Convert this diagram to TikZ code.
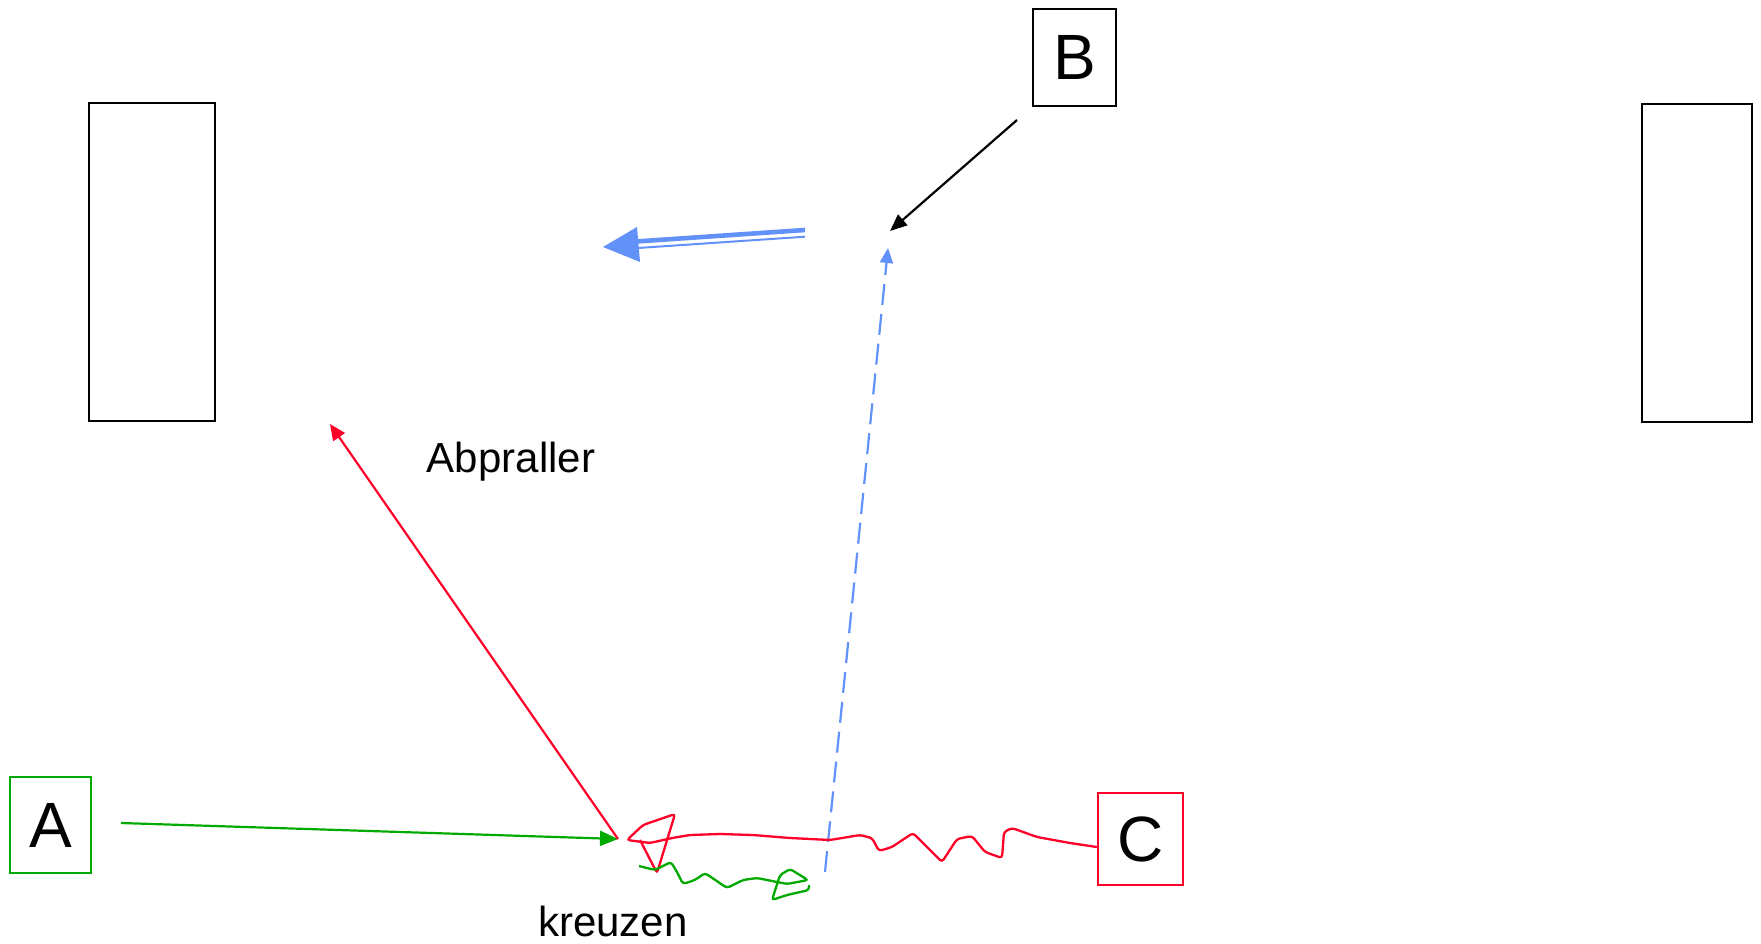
\documentclass[tikz,border=0pt]{standalone}
\usepackage{fontspec}
\setmainfont{Liberation Sans}
\usetikzlibrary{arrows.meta}
\definecolor{teamgreen}{RGB}{0,170,0}
\definecolor{teamred}{RGB}{255,0,40}
\definecolor{ballblue}{RGB}{98,145,250}
\tikzset{
  player/.style={draw, line width=2.4pt, inner sep=0pt,
    font=\fontsize{64}{64}\selectfont},
  goal/.style={draw=black, line width=2.4pt},
  pass/.style={line width=2.2pt, -{Triangle[length=16pt,width=14pt]}},
  scribble/.style={line width=2.3pt, rounded corners=3pt},
  caption/.style={font=\fontsize{42}{42}\selectfont, anchor=base}
}

\begin{document}
\begin{tikzpicture}[x=1pt,y=-1pt]
  \useasboundingbox (0,0) rectangle (1761,944);

  % Goals
  \draw[goal] (89,103) rectangle (215,421);
  \draw[goal] (1642,104) rectangle (1752,422);

  % Players
  \node[player,draw=teamgreen,minimum width=81pt,minimum height=96pt] (A) at (50.5,825) {A};
  \node[player,draw=black,minimum width=83pt,minimum height=97pt] (B) at (1074.5,57.5) {B};
  \node[player,draw=teamred,minimum width=85pt,minimum height=92pt] (C) at (1140.5,839) {C};

  % Free ends
  \coordinate (astart) at (121,823);
  \coordinate (hit) at (618,839);
  \coordinate (rebound) at (330,424);
  \coordinate (bstart) at (1017,120);
  \coordinate (ball) at (890,231);
  \coordinate (dstart) at (825,872);
  \coordinate (dtip) at (888,248);

  % Passes
  \draw[pass,teamgreen,-{Triangle[length=18pt,width=15pt]}] (astart) -- (hit);
  \draw[pass,teamred] (hit) -- (rebound);
  \draw[pass,black,-{Triangle[length=17pt,width=14pt]}] (bstart) -- (ball);
  \draw[pass,ballblue,dash pattern=on 21pt off 9pt,
    -{Triangle[length=15pt,width=13pt]}] (dstart) -- (dtip);

  % Ball direction
  \draw[ballblue,line width=4.6pt] (805,230) -- (636,241.5);
  \draw[ballblue,line width=2pt] (805,236.7) -- (638,248);
  \fill[ballblue] (603,247) -- (637,227) -- (640,262) -- cycle;

  % Crossing runs
  \draw[scribble,teamred] ([yshift=-8pt]C.west) -- (1070,843) -- (1037,837)
    -- (1012,828) -- (1004,832) -- (1002,858) -- (985,852) -- (972,836)
    -- (957,839) -- (942,862) -- (913,833) -- (892,847) -- (879,851)
    -- (872,838) -- (860,835) -- (830,840) -- (790,838) -- (753,835)
    -- (720,834) -- (690,835) -- (672,838) -- (650,843) -- (627,840)
    -- (643,825) -- (675,814) -- (657,873) -- (640,840);
  \draw[scribble,teamgreen] (639,866) -- (655,870) -- (663,866) -- (671,862)
    -- (677,872) -- (683,884) -- (695,880) -- (705,873) -- (727,888)
    -- (743,880) -- (757,878) -- (777,882) -- (787,884) -- (808,880)
    -- (790,869) -- (780,875) -- (772,900) -- (787,895) -- (809,890)
    -- (809,885);

  % Labels
  \node[caption] (abpraller) at (511,472) {Abpraller};
  \node[caption] (kreuzen) at (613,936) {kreuzen};
\end{tikzpicture}
\end{document}
